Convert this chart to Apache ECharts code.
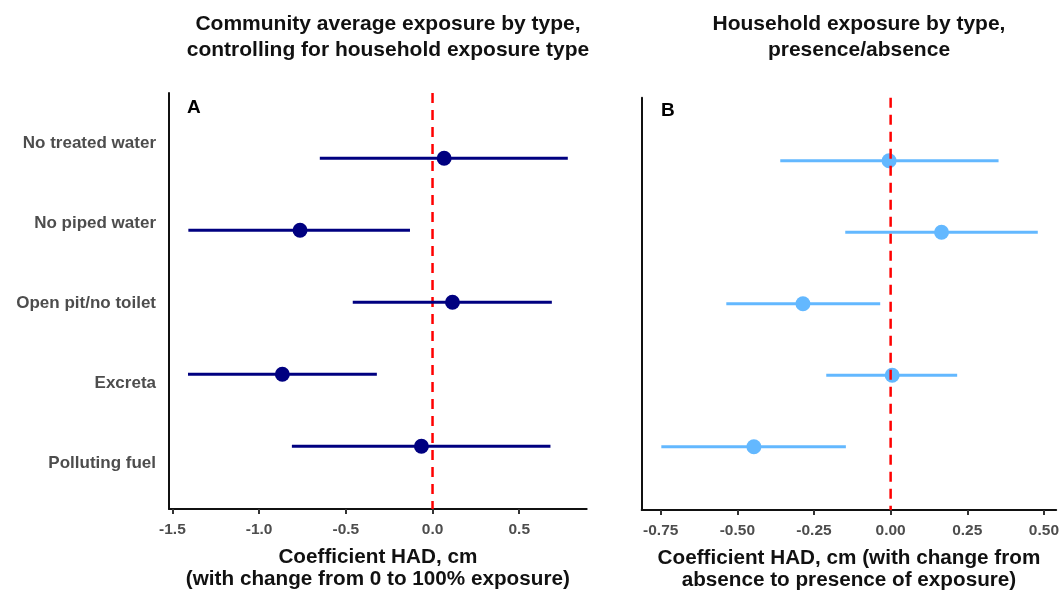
<!DOCTYPE html>
<html>
<head>
<meta charset="utf-8">
<script src="https://cdn.jsdelivr.net/npm/echarts@6/dist/echarts.min.js"></script>
<style>
html,body{margin:0;padding:0;background:#fff;}
#chart{width:1062px;height:596px;}
</style>
</head>
<body>
<div id="chart"></div>
<script>
const categories = ['No treated water', 'No piped water', 'Open pit/no toilet', 'Excreta', 'Polluting fuel'];
const estA  = [0.067, -0.764, 0.115, -0.866, -0.064];
const lowA  = [-0.650, -1.408, -0.460, -1.410, -0.811];
const highA = [0.780, -0.130, 0.688, -0.321, 0.680];
const estB  = [-0.005, 0.166, -0.286, 0.005, -0.446];
const lowB  = [-0.360, -0.148, -0.536, -0.210, -0.748];
const highB = [0.352, 0.480, -0.034, 0.217, -0.146];
const ticksA = [-1.5, -1.0, -0.5, 0.0, 0.5];
const ticksB = [-0.75, -0.50, -0.25, 0.00, 0.25, 0.50];
const titleA = 'Community average exposure by type,\ncontrolling for household exposure type';
const titleB = 'Household exposure by type,\npresence/absence';
const xNameA = 'Coefficient HAD, cm\n(with change from 0 to 100% exposure)';
const xNameB = 'Coefficient HAD, cm (with change from\nabsence to presence of exposure)';

const FONT = '"Liberation Sans", Arial, Helvetica, sans-serif';
const navy = '#000080';
const light = '#63B8FF';

const chart = echarts.init(document.getElementById('chart'), null, {renderer: 'canvas'});

const yMinA = -0.907, yMaxA = 4.871;
const yMinB = -0.883, yMaxB = 4.885;

function barData(lo, hi) { return lo.map((v, i) => [v, hi[i], i]); }
function dotData(est) { return est.map((v, i) => [v, i]); }

function barRender(color) {
  return function (params, api) {
    const p1 = api.coord([api.value(0), api.value(2)]);
    const p2 = api.coord([api.value(1), api.value(2)]);
    return {type: 'line', shape: {x1: p1[0], y1: p1[1], x2: p2[0], y2: p2[1]},
      style: {stroke: color, lineWidth: 3}};
  };
}
function zeroRender(yMin, yMax) {
  return function (params, api) {
    const p1 = api.coord([0, yMin]);
    const p2 = api.coord([0, yMax]);
    return {type: 'line', shape: {x1: p1[0], y1: p1[1], x2: p2[0], y2: p2[1]},
      style: {stroke: '#ff0000', lineWidth: 2.5, lineDash: [10, 7]}};
  };
}

function xAxisCfg(grid, min, max, ticks, dec, name) {
  return {
    gridIndex: grid, type: 'value', min: min, max: max,
    axisLine: {show: true, onZero: false, lineStyle: {color: '#111', width: 2}},
    axisTick: {show: true, customValues: ticks, length: 5, lineStyle: {color: '#333', width: 2}},
    axisLabel: {show: true, customValues: ticks, formatter: v => Number(v).toFixed(dec),
      color: '#4d4d4d', fontSize: 15.5, fontWeight: 'bold', fontFamily: FONT, margin: 13},
    splitLine: {show: false},
    name: name, nameLocation: 'middle', nameGap: 37,
    nameTextStyle: {color: '#111', fontSize: 20.7, fontWeight: 'bold', fontFamily: FONT, lineHeight: 22}
  };
}
function yAxisCfg(grid, min, max) {
  return {
    gridIndex: grid, type: 'value', inverse: true, min: min, max: max,
    axisLine: {show: true, onZero: false, lineStyle: {color: '#111', width: 2}},
    axisTick: {show: false}, axisLabel: {show: false}, splitLine: {show: false}
  };
}

const option = {
  animation: false,
  backgroundColor: '#fff',
  title: [
    {text: titleA, left: 383, top: 6, textAlign: 'center',
      textStyle: {fontSize: 21, fontWeight: 'bold', color: '#111', fontFamily: FONT, lineHeight: 26}},
    {text: titleB, left: 854, top: 6, textAlign: 'center',
      textStyle: {fontSize: 21, fontWeight: 'bold', color: '#111', fontFamily: FONT, lineHeight: 26}},
    {text: 'A', left: 182, top: 93,
      textStyle: {fontSize: 19, fontWeight: 'bold', color: '#000', fontFamily: FONT}},
    {text: 'B', left: 656, top: 96,
      textStyle: {fontSize: 19, fontWeight: 'bold', color: '#000', fontFamily: FONT}}
  ],
  grid: [
    {left: 169, top: 93, width: 417.7, height: 416},
    {left: 169, top: 103.3, width: 417.7, height: 400},
    {left: 641.7, top: 97.7, width: 415, height: 415.3}
  ],
  xAxis: [
    xAxisCfg(0, -1.5196, 0.889, ticksA, 1, xNameA),
    {gridIndex: 1, type: 'value', show: false, min: 0, max: 1},
    xAxisCfg(2, -0.812, 0.540, ticksB, 2, xNameB)
  ],
  yAxis: [
    yAxisCfg(0, yMinA, yMaxA),
    {gridIndex: 1, type: 'category', data: categories, inverse: true, boundaryGap: true,
      axisLine: {show: false}, axisTick: {show: false}, splitLine: {show: false},
      axisLabel: {show: true, color: '#4d4d4d', fontSize: 17, fontWeight: 'bold', fontFamily: FONT, margin: 13}},
    yAxisCfg(2, yMinB, yMaxB)
  ],
  series: [
    {type: 'custom', name: 'zeroA', xAxisIndex: 0, yAxisIndex: 0, z: 1, silent: true,
      data: [[0, 0]], encode: {x: 0, y: 1}, renderItem: zeroRender(yMinA, yMaxA)},
    {type: 'custom', name: 'ciA', xAxisIndex: 0, yAxisIndex: 0, z: 2, silent: true,
      data: barData(lowA, highA), encode: {x: [0, 1], y: 2}, renderItem: barRender(navy)},
    {type: 'scatter', name: 'estA', xAxisIndex: 0, yAxisIndex: 0, z: 3, silent: true,
      symbol: 'circle', symbolSize: 15, itemStyle: {color: navy, opacity: 1},
      data: dotData(estA)},
    {type: 'custom', name: 'ciB', xAxisIndex: 2, yAxisIndex: 2, z: 2, silent: true,
      data: barData(lowB, highB), encode: {x: [0, 1], y: 2}, renderItem: barRender(light)},
    {type: 'scatter', name: 'estB', xAxisIndex: 2, yAxisIndex: 2, z: 3, silent: true,
      symbol: 'circle', symbolSize: 15, itemStyle: {color: light, opacity: 1},
      data: dotData(estB)},
    {type: 'custom', name: 'zeroB', xAxisIndex: 2, yAxisIndex: 2, z: 4, silent: true,
      data: [[0, 0]], encode: {x: 0, y: 1}, renderItem: zeroRender(yMinB, yMaxB)}
  ]
};
chart.setOption(option);
</script>
</body>
</html>
